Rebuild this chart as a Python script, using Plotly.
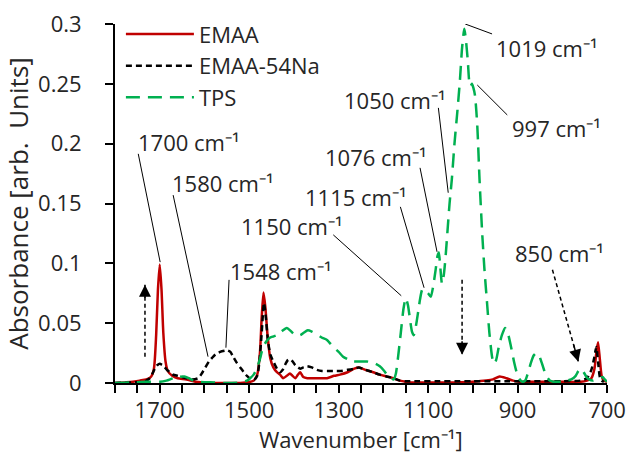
import plotly.graph_objects as go

# ---- spectra (wavenumber in cm^-1, absorbance in arb. units) ----
emaa_wn = [1800, 1780, 1760, 1745, 1730, 1720, 1713, 1708, 1704, 1700, 1696, 1692, 1687, 1682,
           1672, 1660, 1640, 1620, 1600, 1560, 1520, 1500, 1490, 1482, 1476, 1472, 1468, 1464,
           1459, 1453, 1446, 1438, 1431, 1424, 1416, 1409, 1403, 1397, 1391, 1386, 1379, 1370,
           1357, 1340, 1326, 1310, 1297, 1280, 1265, 1255, 1240, 1223, 1208, 1193, 1178, 1163,
           1150, 1140, 1120, 1080, 1040, 1000, 970, 955, 940, 925, 910, 895, 880, 850, 800, 760,
           745, 735, 728, 724, 720, 716, 712, 707, 700]
emaa_abs = [0.000, 0.0005, 0.001, 0.002, 0.003, 0.005, 0.012, 0.040, 0.078, 0.099, 0.078, 0.042,
            0.018, 0.010, 0.006, 0.004, 0.003, 0.001, 0.0005, 0.0, 0.0, 0.0008, 0.002, 0.007,
            0.025, 0.055, 0.0757, 0.064, 0.040, 0.021, 0.013, 0.009, 0.007, 0.004, 0.006, 0.008,
            0.006, 0.004, 0.007, 0.009, 0.005, 0.004, 0.004, 0.004, 0.004, 0.006, 0.007, 0.009,
            0.012, 0.013, 0.011, 0.009, 0.007, 0.0055, 0.004, 0.002, 0.001, 0.0005, 0.0005,
            0.0005, 0.0005, 0.001, 0.002, 0.003, 0.0055, 0.004, 0.002, 0.001, 0.001, 0.001,
            0.001, 0.001, 0.002, 0.004, 0.012, 0.025, 0.034, 0.020, 0.006, 0.002, 0.001]

na_wn = [1800, 1760, 1740, 1730, 1722, 1716, 1711, 1705, 1700, 1692, 1684, 1677, 1670, 1660,
         1650, 1640, 1628, 1614, 1606, 1598, 1590, 1583, 1575, 1565, 1554, 1548, 1542, 1536,
         1528, 1520, 1512, 1505, 1495, 1488, 1482, 1477, 1472, 1467, 1463, 1458, 1452, 1446,
         1438, 1431, 1425, 1420, 1414, 1409, 1403, 1397, 1391, 1386, 1379, 1371, 1360, 1349,
         1337, 1326, 1310, 1297, 1280, 1265, 1255, 1240, 1223, 1208, 1193, 1178, 1163, 1150,
         1140, 1120, 1080, 1040, 1000, 960, 920, 880, 840, 800, 760, 745, 735, 728, 724, 720,
         716, 712, 707, 700]
na_abs = [0.000, 0.0005, 0.001, 0.002, 0.004, 0.008, 0.012, 0.015, 0.016, 0.0145, 0.011, 0.009,
          0.007, 0.006, 0.005, 0.004, 0.003, 0.004, 0.008, 0.013, 0.018, 0.021, 0.024, 0.026,
          0.027, 0.0272, 0.026, 0.022, 0.017, 0.013, 0.009, 0.006, 0.003, 0.003, 0.006, 0.018,
          0.042, 0.067, 0.056, 0.035, 0.023, 0.018, 0.012, 0.009, 0.011, 0.015, 0.019, 0.020,
          0.018, 0.015, 0.013, 0.012, 0.013, 0.014, 0.013, 0.011, 0.010, 0.010, 0.010, 0.010,
          0.011, 0.012, 0.013, 0.011, 0.009, 0.007, 0.0055, 0.004, 0.002, 0.0015, 0.0015,
          0.0015, 0.0015, 0.0015, 0.0015, 0.0015, 0.0015, 0.0015, 0.0015, 0.0015, 0.002,
          0.004, 0.011, 0.022, 0.030, 0.018, 0.005, 0.002, 0.001]

tps_wn = [1800, 1760, 1730, 1700, 1685, 1670, 1658, 1645, 1635, 1625, 1610, 1580, 1550, 1520,
          1505, 1498, 1490, 1483, 1476, 1469, 1461, 1453, 1445, 1438, 1428, 1416, 1406, 1397,
          1386, 1378, 1369, 1360, 1350, 1338, 1326, 1312, 1300, 1290, 1280, 1268, 1255, 1237,
          1223, 1208, 1198, 1190, 1183, 1177, 1172, 1167, 1161, 1155, 1150, 1145, 1140, 1136,
          1132, 1127, 1122, 1118, 1113, 1108, 1100, 1094, 1089, 1083, 1079, 1076, 1073, 1069,
          1065, 1061, 1057, 1052, 1047, 1041, 1035, 1029, 1024, 1019, 1015, 1011, 1008, 1005,
          1002, 999, 995, 990, 985, 979, 974, 968, 963, 957, 953, 948, 942, 935, 928, 922, 915,
          908, 902, 895, 889, 883, 877, 870, 864, 858, 852, 846, 840, 834, 828, 820, 810, 800,
          790, 780, 770, 764, 758, 752, 746, 740, 732, 724, 716, 710, 705, 700]
tps_abs = [0.0, 0.0005, 0.001, 0.001, 0.002, 0.004, 0.005, 0.0055, 0.004, 0.002, 0.001, 0.0005,
           0.0, 0.0005, 0.002, 0.004, 0.007, 0.012, 0.020, 0.030, 0.035, 0.038, 0.039, 0.040,
           0.043, 0.046, 0.043, 0.040, 0.040, 0.042, 0.044, 0.043, 0.041, 0.038, 0.036, 0.030,
           0.026, 0.022, 0.020, 0.018, 0.018, 0.018, 0.017, 0.014, 0.010, 0.006, 0.004, 0.003,
           0.008, 0.022, 0.042, 0.062, 0.071, 0.065, 0.052, 0.043, 0.040, 0.048, 0.060, 0.070,
           0.078, 0.078, 0.075, 0.072, 0.080, 0.095, 0.106, 0.109, 0.098, 0.083, 0.090, 0.105,
           0.125, 0.150, 0.170, 0.200, 0.225, 0.252, 0.280, 0.296, 0.285, 0.268, 0.252, 0.248,
           0.250, 0.247, 0.240, 0.215, 0.170, 0.125, 0.095, 0.066, 0.042, 0.022, 0.016, 0.019,
           0.030, 0.040, 0.046, 0.042, 0.031, 0.018, 0.009, 0.003, 0.001, 0.002, 0.008, 0.017,
           0.023, 0.025, 0.023, 0.017, 0.010, 0.005, 0.002, 0.001, 0.001, 0.001, 0.002, 0.003,
           0.006, 0.010, 0.012, 0.009, 0.005, 0.003, 0.002, 0.003, 0.004, 0.005, 0.003, 0.001]

# ---- axis ticks ----
x_tick_vals = list(range(1800, 650, -50))
x_tick_labels = ["1700", "1500", "1300", "1100", "900", "700"]
y_tick_vals = [0, 0.05, 0.1, 0.15, 0.2, 0.25, 0.3]
y_tick_labels = ["0", "0.05", "0.1", "0.15", "0.2", "0.25", "0.3"]

# ---- peak call-outs: label, text anchor (wn, abs), leader line start and end ----
callouts = [
    ("1700 cm⁻¹", (1753, 0.2015), (1748, 0.1915), (1699, 0.101)),
    ("1580 cm⁻¹", (1677, 0.167), (1670, 0.157), (1592, 0.022)),
    ("1548 cm⁻¹", (1547, 0.0935), (1545, 0.0862), (1552, 0.0295)),
    ("1150 cm⁻¹", (1523, 0.131), (1312, 0.1238), (1160, 0.0729)),
    ("1115 cm⁻¹", (1379, 0.1556), (1162, 0.1472), (1109, 0.0796)),
    ("1076 cm⁻¹", (1335, 0.189), (1118, 0.1798), (1080, 0.1096)),
    ("1050 cm⁻¹", (1292, 0.2365), (1077, 0.2299), (1055, 0.159)),
    ("1019 cm⁻¹", (952, 0.280), (1017, 0.300), (957, 0.2917)),
    ("997 cm⁻¹", (916, 0.213), (990, 0.249), (923, 0.224)),
    ("850 cm⁻¹", (910, 0.109), None, None),
]

# ---- dashed arrows: tail (wn, abs) -> head (wn, abs) ----
arrows = [
    ((1733, 0.022), (1733, 0.082)),
    ((1024, 0.0862), (1024, 0.0236)),
    ((822, 0.0946), (764, 0.0178)),
]

FONT = "Open Sans"
TXT = "#262626"
FS = 22

fig = go.Figure()
fig.add_trace(go.Scatter(x=emaa_wn, y=emaa_abs, name="EMAA", mode="lines",
                         line=dict(color="#C00000", width=2.5, shape="spline", smoothing=0.6)))
fig.add_trace(go.Scatter(x=na_wn, y=na_abs, name="EMAA-54Na", mode="lines",
                         line=dict(color="#000000", width=2.5, dash="6px,4px",
                                   shape="spline", smoothing=0.6)))
fig.add_trace(go.Scatter(x=tps_wn, y=tps_abs, name="TPS", mode="lines",
                         line=dict(color="#00B050", width=2.5, dash="14px,8px",
                                   shape="spline", smoothing=0.6)))

shapes = []
annotations = []
for text, (tx, ty), start, end in callouts:
    annotations.append(dict(x=tx, y=ty, xref="x", yref="y", text=text, showarrow=False,
                            xanchor="left", yanchor="middle",
                            font=dict(family=FONT, size=FS, color=TXT)))
    if start is not None:
        shapes.append(dict(type="line", xref="x", yref="y", x0=start[0], y0=start[1],
                           x1=end[0], y1=end[1], line=dict(color="#000000", width=1)))

for (x0, y0), (x1, y1) in arrows:
    shapes.append(dict(type="line", xref="x", yref="y", x0=x0, y0=y0, x1=x1, y1=y1,
                       line=dict(color="#000000", width=1.5, dash="4px,3px")))
    annotations.append(dict(x=x1, y=y1, ax=x1 + (x0 - x1) * 0.2, ay=y1 + (y0 - y1) * 0.2,
                            xref="x", yref="y", axref="x", ayref="y", text="",
                            showarrow=True, arrowhead=2, arrowsize=1.6, arrowwidth=1.5,
                            arrowcolor="#000000", standoff=0))

# x-axis title placed as a paper-anchored label below the tick labels
annotations.append(dict(x=0.5, y=-0.156, xref="paper", yref="paper",
                        text="Wavenumber [cm⁻¹]", showarrow=False,
                        xanchor="center", yanchor="middle",
                        font=dict(family=FONT, size=FS, color=TXT)))

fig.update_layout(
    width=628, height=454,
    margin=dict(l=115, r=21, t=24, b=71, autoexpand=False),
    paper_bgcolor="white", plot_bgcolor="white",
    font=dict(family=FONT, size=FS, color=TXT),
    showlegend=True,
    legend=dict(x=0.012, y=1.03, xanchor="left", yanchor="top", bgcolor="rgba(0,0,0,0)",
                itemwidth=68, font=dict(family=FONT, size=FS, color=TXT),
                tracegroupgap=0),
    shapes=shapes,
    annotations=annotations,
)

fig.update_xaxes(range=[1800, 700], tickmode="array", tickvals=x_tick_vals,
                 ticktext=[str(v) if str(v) in x_tick_labels else "" for v in x_tick_vals],
                 ticks="outside", ticklen=8, tickwidth=1.5, tickcolor="#000000",
                 showline=True, linecolor="#000000", linewidth=2, showgrid=False,
                 zeroline=False, automargin=False, ticklabelstandoff=-1,
                 tickfont=dict(family=FONT, size=FS, color=TXT))
fig.update_yaxes(range=[0, 0.3], tickmode="array", tickvals=y_tick_vals, ticktext=y_tick_labels,
                 ticks="outside", ticklen=8, tickwidth=1.5, tickcolor="#000000",
                 showline=True, linecolor="#000000", linewidth=2, showgrid=False,
                 zeroline=False, automargin=False, ticklabelstandoff=19,
                 title=dict(text="Absorbance [arb.  Units]", standoff=8),
                 tickfont=dict(family=FONT, size=FS, color=TXT))

fig.write_html("out.html")
